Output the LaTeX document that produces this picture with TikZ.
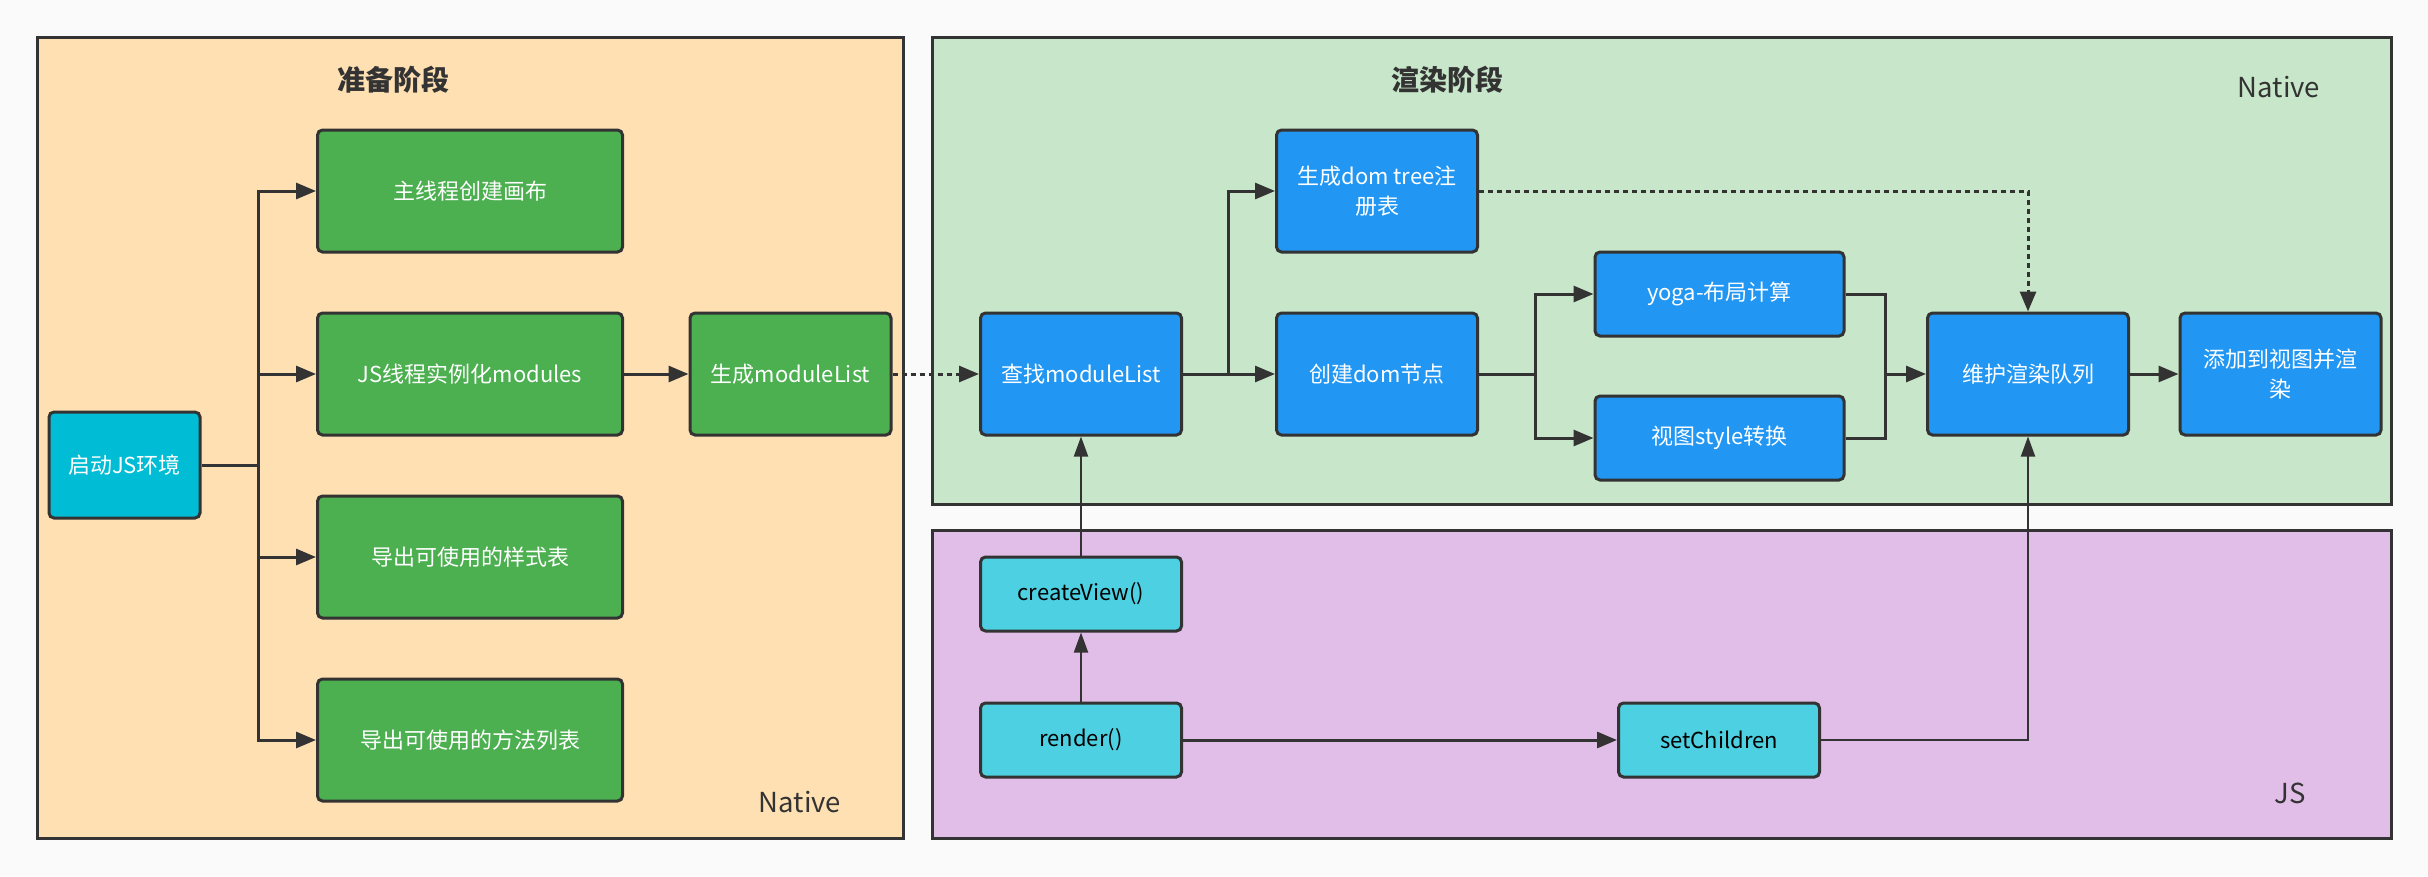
\documentclass[tikz,border=0pt]{standalone}
\usepackage{fontspec}
\setmainfont{Noto Sans CJK SC}
\usetikzlibrary{arrows.meta}
\definecolor{bgc}{HTML}{FAFAFA}
\definecolor{linec}{HTML}{333333}
\definecolor{orangep}{HTML}{FFE0B2}
\definecolor{greenp}{HTML}{C8E6C9}
\definecolor{purplep}{HTML}{E1BEE7}
\definecolor{greenb}{HTML}{4CAF50}
\definecolor{blueb}{HTML}{2196F3}
\definecolor{cyanb}{HTML}{00BCD4}
\definecolor{lcyanb}{HTML}{4DD0E1}
\tikzset{
  panel/.style={draw=linec, line width=3pt},
  box/.style={draw=linec, line width=3pt, rounded corners=5pt, text=white,
    font=\fontsize{22}{30}\selectfont, align=center, inner sep=0pt},
  gbox/.style={box, fill=greenb, minimum width=305pt, minimum height=122pt},
  bbox/.style={box, fill=blueb, minimum width=201pt, minimum height=122pt},
  ybox/.style={box, fill=blueb, minimum width=249pt, minimum height=84pt},
  cbox/.style={box, fill=lcyanb, text=black, minimum width=201pt, minimum height=74pt},
  title/.style={text=linec, font=\fontsize{28}{32}\selectfont\bfseries},
  tag/.style={text=linec, font=\fontsize{27.5}{30}\selectfont},
  conn/.style={draw=linec, line width=3pt},
  arr/.style={conn, -{Triangle[length=20pt,width=16pt]}},
  thinarr/.style={draw=linec, line width=2pt, -{Triangle[length=20pt,width=14pt]}},
  dotarr/.style={arr, dash pattern=on 5pt off 4pt}
}
\begin{document}
\begin{tikzpicture}[x=1pt,y=-1pt]
\fill[bgc] (0,0) rectangle (2428,876);
\useasboundingbox (0,0) rectangle (2428,876);
% panels
\draw[panel, fill=orangep] (37,37) rectangle (903,838);
\draw[panel, fill=greenp] (932,37) rectangle (2391,504);
\draw[panel, fill=purplep] (932,530) rectangle (2391,838);
\node[title] (t1) at (393,80) {准备阶段};
\node[title] (t2) at (1447,80) {渲染阶段};
\node[tag] (n1) at (2279,87) {Native};
\node[tag] (n2) at (800,802) {Native};
\node[tag] (n3) at (2290,793) {JS};
% left nodes
\node[box, fill=cyanb, minimum width=151pt, minimum height=106pt] (start) at (124.5,465) {启动JS环境};
\node[gbox] (g1) at (470,191) {主线程创建画布};
\node[gbox] (g2) at (470,374) {JS线程实例化modules};
\node[gbox] (g3) at (470,557) {导出可使用的样式表};
\node[gbox] (g4) at (470,740) {导出可使用的方法列表};
\node[bbox, fill=greenb] (g5) at (790.5,374) {生成moduleList};
% render nodes
\node[bbox] (b1) at (1081,374) {查找moduleList};
\node[bbox] (b2) at (1377,191) {生成dom tree注\\册表};
\node[bbox] (b3) at (1377,374) {创建dom节点};
\node[ybox] (b4) at (1719.5,294) {yoga-布局计算};
\node[ybox] (b5) at (1719.5,438) {视图style转换};
\node[bbox] (b6) at (2028,374) {维护渲染队列};
\node[bbox] (b7) at (2280.5,374) {添加到视图并渲\\染};
% js nodes
\node[cbox] (c1) at (1081,594) {createView()};
\node[cbox] (c2) at (1081,740) {render()};
\node[cbox] (c3) at (1719,740) {setChildren};
% connectors
\coordinate (trunk) at (258,465);
\draw[conn] (start.east) -- (trunk);
\draw[arr] (trunk) |- (g1.west);
\draw[arr] (trunk) |- (g2.west);
\draw[arr] (trunk) |- (g3.west);
\draw[arr] (trunk) |- (g4.west);
\draw[arr] (g2.east) -- (g5.west);
\draw[dotarr] (g5.east) -- (b1.west);
\coordinate (br1) at (1228.7,374);
\draw[arr] (b1.east) -- (b3.west);
\draw[arr] (br1) |- (b2.west);
\coordinate (br2) at (1535.5,374);
\draw[conn] (b3.east) -- (br2);
\draw[arr] (br2) |- (b4.west);
\draw[arr] (br2) |- (b5.west);
\coordinate (mg) at (1885.5,374);
\draw[conn] (b4.east) -| (mg);
\draw[conn] (b5.east) -| (mg);
\draw[arr] (mg) -- (b6.west);
\draw[arr] (b6.east) -- (b7.west);
\draw[dotarr] (b2.east) -| (b6.north);
\draw[thinarr] (c1.north) -- (b1.south);
\draw[thinarr] (c2.north) -- (c1.south);
\draw[arr] (c2.east) -- (c3.west);
\draw[thinarr] (c3.east) -| (b6.south);
\end{tikzpicture}
\end{document}
